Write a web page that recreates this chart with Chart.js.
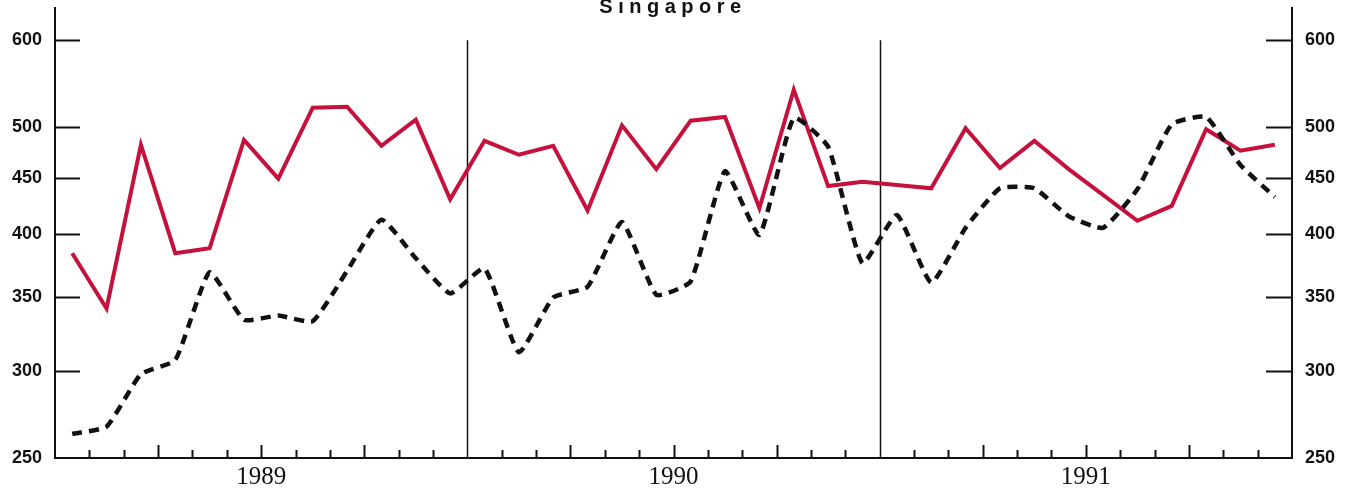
<!DOCTYPE html>
<html>
<head>
<meta charset="utf-8">
<script src="https://cdn.jsdelivr.net/npm/chart.js@4"></script>
<style>
    body { margin: 0; background: #fff; }
    #wrap { width: 1352px; height: 493px; }
</style>
</head>
<body>
<div id="wrap"><canvas id="grafik"></canvas></div>
<script>
// Veriler
const yillar = ['1989', '1990', '1991'];
const aylar = yillar.flatMap(y => ['01','02','03','04','05','06','07','08','09','10','11','12'].map(m => y + '-' + m));

const kirmiziSeri = [384, 342, 482, 384, 388, 487, 449, 521, 522, 481, 508, 430,
                     486, 472, 481, 420, 502, 458, 507, 511, 422, 541, 442, 446,
                     443, 440, 499, 459, 486, 458, 434, 411, 424, 498, 476, 482];
const kesikliSeri = [263, 267, 298, 307, 369, 334, 337, 333, 370, 412, 380, 353,
                     372, 312, 350, 358, 410, 352, 362, 456, 399, 510, 480, 376,
                     416, 361, 405, 440, 440, 415, 405, 439, 503, 511, 462, 432];
const yTikler = [250, 300, 350, 400, 450, 500, 600];
const yilOrtalari = [5.5, 17.5, 29.5];
const yilSinirlari = [11.5, 23.5];

const baslik = 'Singapore';

// Ek çizimler: başlık, içe dönük tikler, yıl ayırıcıları
const ekCizimler = {
    id: 'ekCizimler',
    beforeDatasetsDraw(chart) {
        const ctx = chart.ctx;
        const x = chart.scales.x;
        const y = chart.scales.y;
        const alan = chart.chartArea;
        ctx.save();
        ctx.strokeStyle = '#111';
        ctx.lineWidth = 2;

        // y tikleri (iki yanda, içe doğru)
        yTikler.forEach(v => {
            if (v === 250) return;
            const py = Math.round(y.getPixelForValue(v)) + 0.5;
            ctx.beginPath();
            ctx.moveTo(alan.left, py);
            ctx.lineTo(alan.left + 25, py);
            ctx.moveTo(alan.right, py);
            ctx.lineTo(alan.right - 26, py);
            ctx.stroke();
        });

        // ay tikleri
        for (let k = 0; k < aylar.length - 1; k++) {
            const v = k + 0.5;
            if (yilSinirlari.includes(v)) continue;
            const px = Math.round(x.getPixelForValue(v)) + 0.5;
            const uzunluk = (k + 1) % 3 === 0 ? 13 : 8;
            ctx.beginPath();
            ctx.moveTo(px, alan.bottom);
            ctx.lineTo(px, alan.bottom - uzunluk);
            ctx.stroke();
        }

        // yıl ayırıcı çizgiler
        ctx.lineWidth = 1.5;
        yilSinirlari.forEach(v => {
            const px = Math.round(x.getPixelForValue(v)) + 0.5;
            ctx.beginPath();
            ctx.moveTo(px, y.getPixelForValue(600));
            ctx.lineTo(px, alan.bottom);
            ctx.stroke();
        });

        // başlık
        ctx.fillStyle = '#111';
        ctx.font = 'bold 20px "Liberation Sans", Arial, sans-serif';
        ctx.letterSpacing = '5.5px';
        ctx.textAlign = 'center';
        ctx.textBaseline = 'alphabetic';
        ctx.fillText(baslik, 673, 13);
        ctx.restore();
    }
};

const yEkseni = (pozisyon, genislik) => ({
    type: 'logarithmic',
    position: pozisyon,
    min: 250,
    max: 642,
    grid: { display: false, drawTicks: false },
    border: { display: true, color: '#111', width: 2 },
    ticks: {
        padding: 13,
        color: '#111',
        font: { family: '"Liberation Sans", Arial, sans-serif', size: 18, weight: 'bold' },
        callback: v => String(v)
    },
    afterBuildTicks: s => { s.ticks = yTikler.map(v => ({ value: v })); },
    afterFit: s => { s.width = genislik; s.paddingTop = 0; s.paddingBottom = 0; }
});

const ctx = document.getElementById('grafik').getContext('2d');
new Chart(ctx, {
    type: 'line',
    data: {
        datasets: [
            {
                label: 'kesikli',
                data: kesikliSeri.map((v, i) => ({ x: i, y: v })),
                borderColor: '#111',
                borderWidth: 4.5,
                borderDash: [10, 7],
                tension: 0.15,
                pointRadius: 0,
                fill: false
            },
            {
                label: 'kirmizi',
                data: kirmiziSeri.map((v, i) => ({ x: i, y: v })),
                borderColor: '#c4123c',
                borderWidth: 4,
                tension: 0,
                pointRadius: 0,
                borderJoinStyle: 'miter',
                fill: false
            }
        ]
    },
    options: {
        responsive: true,
        maintainAspectRatio: false,
        animation: false,
        layout: { padding: { top: 8, left: 0, right: 0, bottom: 0 } },
        plugins: {
            legend: { display: false },
            tooltip: { enabled: false },
            title: { display: false }
        },
        scales: {
            x: {
                type: 'linear',
                min: -0.5,
                max: aylar.length - 0.5,
                grid: { display: false, drawTicks: false },
                border: { display: true, color: '#111', width: 2 },
                ticks: {
                    padding: 4,
                    color: '#111',
                    font: { family: '"Liberation Serif", "Times New Roman", serif', size: 25 },
                    callback: v => yillar[yilOrtalari.indexOf(v)] || ''
                },
                afterBuildTicks: s => { s.ticks = yilOrtalari.map(v => ({ value: v })); },
                afterFit: s => { s.height = 35; s.paddingLeft = 0; s.paddingRight = 0; }
            },
            y: yEkseni('left', 55),
            y2: yEkseni('right', 60)
        }
    },
    plugins: [ekCizimler]
});
</script>
</body>
</html>
